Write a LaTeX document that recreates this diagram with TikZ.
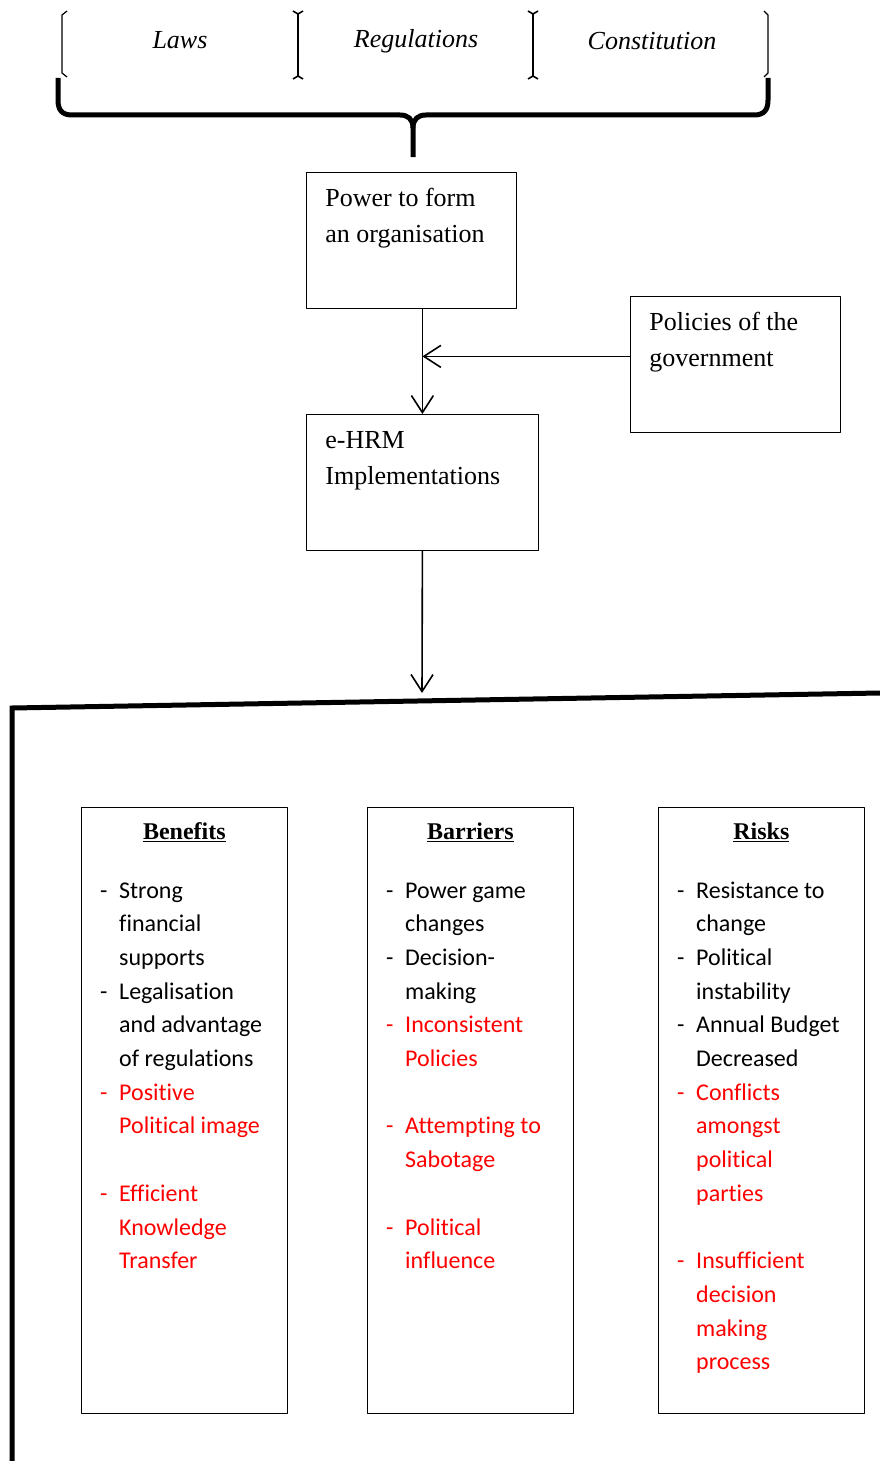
\documentclass[tikz,border=0pt]{standalone}
\usepackage{fontspec}
\setmainfont{Liberation Serif}
\newfontfamily\calibri[Ligatures=NoCommon]{Carlito}
\usepackage{array}
\usetikzlibrary{arrows.meta, positioning}

\newcommand{\rd}[1]{\textcolor{red}{#1}}

\begin{document}
\begin{tikzpicture}[x=1pt, y=-1pt, >={Straight Barb[length=17pt, width=22pt]}, line join=round]
    \tikzstyle{box}=[draw, line width=0.8pt, anchor=north west, inner ysep=0pt, inner xsep=19pt, font=\fontsize{26}{36}\selectfont]
    \tikzstyle{col}=[draw, line width=0.8pt, anchor=north west, inner sep=0pt, minimum width=206pt, minimum height=606pt]
    \tikzstyle{law}=[font=\fontsize{26}{30}\selectfont\itshape]
    \tikzstyle{head}=[font=\fontsize{24}{28}\selectfont\bfseries]
    \tikzstyle{list}=[anchor=base west, inner sep=0pt, font=\calibri\fontsize{24}{33.7}\selectfont]
    \tikzstyle{link}=[->, line width=1.6pt]
    \tikzstyle{heavy}=[line width=5pt]

    \useasboundingbox (0,0) rectangle (880,1461);

    % sources of power
    \draw[line width=1.2pt] (67,11) -- (62,15) -- (62,73) -- (67,77);
    \draw[line width=1.6pt] (293,11) -- (298,14) -- (303,11) (298,14) -- (298,76) (293,79) -- (298,76) -- (303,79);
    \draw[line width=1.6pt] (528,11) -- (533,14) -- (538,11) (533,14) -- (533,76) (528,79) -- (533,76) -- (538,79);
    \draw[line width=1.2pt] (764,11) -- (768,15) -- (768,73) -- (764,77);
    \node[law] (laws) at (180,40) {Laws};
    \node[law] (regs) at (416,41) {Regulations};
    \node[law] (const) at (652,41) {Constitution};

    \draw[heavy] (58,78) -- (58,100) .. controls (58,110) and (62,115) .. (72,115) -- (400,115)
        .. controls (408,115) and (413,119) .. (413,128) -- (413,157);
    \draw[heavy] (413,128) .. controls (413,119) and (418,115) .. (426,115) -- (754,115)
        .. controls (764,115) and (768,110) .. (768,100) -- (768,78);

    % organisation and policies
    \node[box] (power) at (306,172) {\parbox[t][136pt][t]{172pt}{\rule{0pt}{34pt}Power to form\\an organisation}};
    \node[box] (policy) at (630,296) {\parbox[t][136pt][t]{172pt}{\rule{0pt}{34pt}Policies of the\\government}};
    \node[box] (ehrm) at (306,414) {\parbox[t][136pt][t]{194pt}{\rule{0pt}{34pt}e-HRM\\Implementations}};

    \draw[link] (power.south -| ehrm.north) -- (ehrm.north);
    \path ([yshift=8pt]policy.west) coordinate (gov);
    \draw[link] (gov) -- (gov -| ehrm.north);
    \coordinate (split) at (422,693);
    \draw[link] (ehrm.south) -- (split);

    \draw[heavy, line join=miter] (12,1461) -- (12,708) -- (880,693);

    % outcomes
    \node[col] (benefits) at (81,807) {};
    \node[col] (barriers) at (367,807) {};
    \node[col] (risks) at (658,807) {};
    \node[head] (benhead) at ([yshift=-25pt]benefits.north) {\underline{Benefits}};
    \node[head] (barhead) at ([yshift=-25pt]barriers.north) {\underline{Barriers}};
    \node[head] (riskhead) at ([yshift=-25pt]risks.north) {\underline{Risks}};

    \node[list] (benlist) at ([xshift=19pt, yshift=-91pt]benefits.north west) {\begin{tabular}[t]{@{}p{19pt}@{}l@{}}
        - & Strong\\ & financial\\ & supports\\
        - & Legalisation\\ & and advantage\\ & of regulations\\
        \rd{-} & \rd{Positive}\\ & \rd{Political image}\\ \\
        \rd{-} & \rd{Efficient}\\ & \rd{Knowledge}\\ & \rd{Transfer}
    \end{tabular}};
    \node[list] (barlist) at ([xshift=19pt, yshift=-91pt]barriers.north west) {\begin{tabular}[t]{@{}p{19pt}@{}l@{}}
        - & Power game\\ & changes\\
        - & Decision-\\ & making\\
        \rd{-} & \rd{Inconsistent}\\ & \rd{Policies}\\ \\
        \rd{-} & \rd{Attempting to}\\ & \rd{Sabotage}\\ \\
        \rd{-} & \rd{Political}\\ & \rd{influence}
    \end{tabular}};
    \node[list] (risklist) at ([xshift=19pt, yshift=-91pt]risks.north west) {\begin{tabular}[t]{@{}p{19pt}@{}l@{}}
        - & Resistance to\\ & change\\
        - & Political\\ & instability\\
        - & Annual Budget\\ & Decreased\\
        \rd{-} & \rd{Conflicts}\\ & \rd{amongst}\\ & \rd{political}\\ & \rd{parties}\\ \\
        \rd{-} & \rd{Insufficient}\\ & \rd{decision}\\ & \rd{making}\\ & \rd{process}
    \end{tabular}};
\end{tikzpicture}
\end{document}
